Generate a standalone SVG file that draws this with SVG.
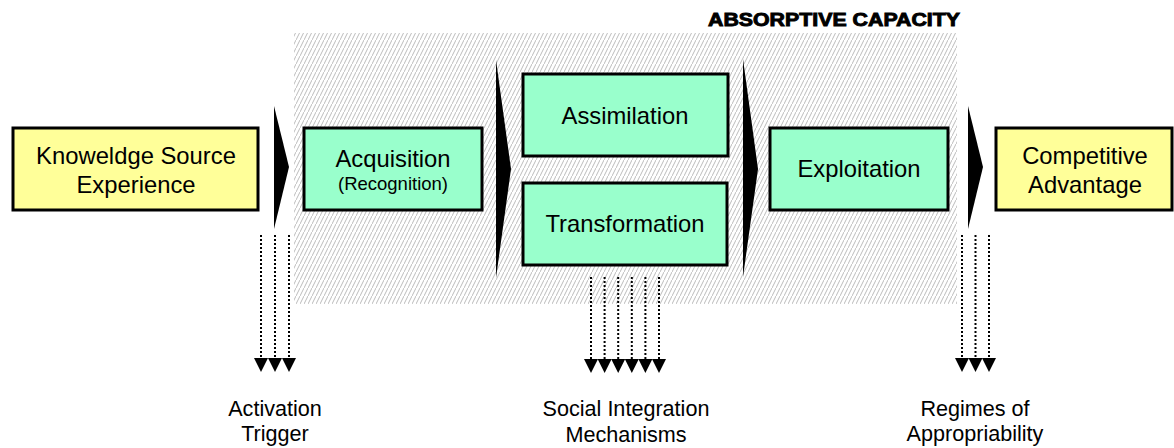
<svg xmlns="http://www.w3.org/2000/svg" width="1174" height="448" viewBox="0 0 1174 448">
<defs>
<pattern id="hatch" patternUnits="userSpaceOnUse" width="4" height="8">
<rect width="4" height="8" fill="#ffffff"/>
<path d="M-1,10 L5,-2" stroke="#bdbdbd" stroke-width="1"/>
</pattern>
<marker id="ah" markerUnits="userSpaceOnUse" markerWidth="14" markerHeight="14" refX="7" refY="0" orient="0" overflow="visible">
<path d="M0,0 L14,0 L7,14 Z" fill="#000"/>
</marker>
</defs>
<style>
.y{fill:#FFFF99;stroke:#000;stroke-width:3}
.g{fill:#99FFCC;stroke:#000;stroke-width:3}
.t{font-family:"Liberation Sans",Arial,sans-serif;font-size:23.8px;fill:#000;text-anchor:middle}
.s{font-family:"Liberation Sans",Arial,sans-serif;font-size:18.5px;fill:#000;text-anchor:middle}
.l{font-family:"Liberation Sans",Arial,sans-serif;font-size:21.6px;fill:#000;text-anchor:middle}
.d{stroke:#000;stroke-width:2;stroke-dasharray:2 2;fill:none;marker-end:url(#ah)}
.ch{fill:#000}
</style>
<rect id="absorptive-capacity" x="294" y="33" width="663" height="271" fill="url(#hatch)"/>
<text x="960" y="26" font-family="'Liberation Sans',Arial,sans-serif" font-size="18" font-weight="bold" stroke="#000" stroke-width="0.9" text-anchor="end" textLength="252" lengthAdjust="spacingAndGlyphs">ABSORPTIVE CAPACITY</text>
<g id="knowledge-source">
<rect class="y" x="13" y="128" width="245" height="82"/>
<text class="t" x="136" y="164">Knoweldge Source</text>
<text class="t" x="136" y="193">Experience</text>
</g>
<g id="acquisition">
<rect class="g" x="304" y="128" width="178" height="82"/>
<text class="t" x="393" y="167">Acquisition</text>
<text class="s" x="393" y="190">(Recognition)</text>
</g>
<g id="assimilation">
<rect class="g" x="523" y="74" width="205" height="82"/>
<text class="t" x="625" y="124">Assimilation</text>
</g>
<g id="transformation">
<rect class="g" x="523" y="183" width="204" height="82"/>
<text class="t" x="625" y="232">Transformation</text>
</g>
<g id="exploitation">
<rect class="g" x="770" y="128" width="178" height="82"/>
<text class="t" x="859" y="177">Exploitation</text>
</g>
<g id="competitive-advantage">
<rect class="y" x="996" y="128" width="176" height="82"/>
<text class="t" x="1085" y="164">Competitive</text>
<text class="t" x="1085" y="193">Advantage</text>
</g>
<g id="connectors">
<path class="ch" d="M274,106 L289,167 L274,229 Z"/>
<path class="ch" d="M496,60 L511,169 L496,278 Z"/>
<path class="ch" d="M743,59 L758,169 L743,277 Z"/>
<path class="ch" d="M968,106 L983,167 L968,229 Z"/>
<path class="d" d="M261,235 V358"/>
<path class="d" d="M275,235 V358"/>
<path class="d" d="M289,235 V358"/>
<path class="d" d="M591,277 V359"/>
<path class="d" d="M604.6,277 V359"/>
<path class="d" d="M618.2,277 V359"/>
<path class="d" d="M631.8,277 V359"/>
<path class="d" d="M645.4,277 V359"/>
<path class="d" d="M659,277 V359"/>
<path class="d" d="M962,235 V358"/>
<path class="d" d="M975.5,235 V358"/>
<path class="d" d="M989,235 V358"/>
</g>
<g id="labels">
<text class="l" x="275" y="416">Activation</text>
<text class="l" x="275" y="441">Trigger</text>
<text class="l" x="626" y="416">Social Integration</text>
<text class="l" x="626" y="442">Mechanisms</text>
<text class="l" x="975" y="416">Regimes of</text>
<text class="l" x="975" y="441">Appropriability</text>
</g>
</svg>
